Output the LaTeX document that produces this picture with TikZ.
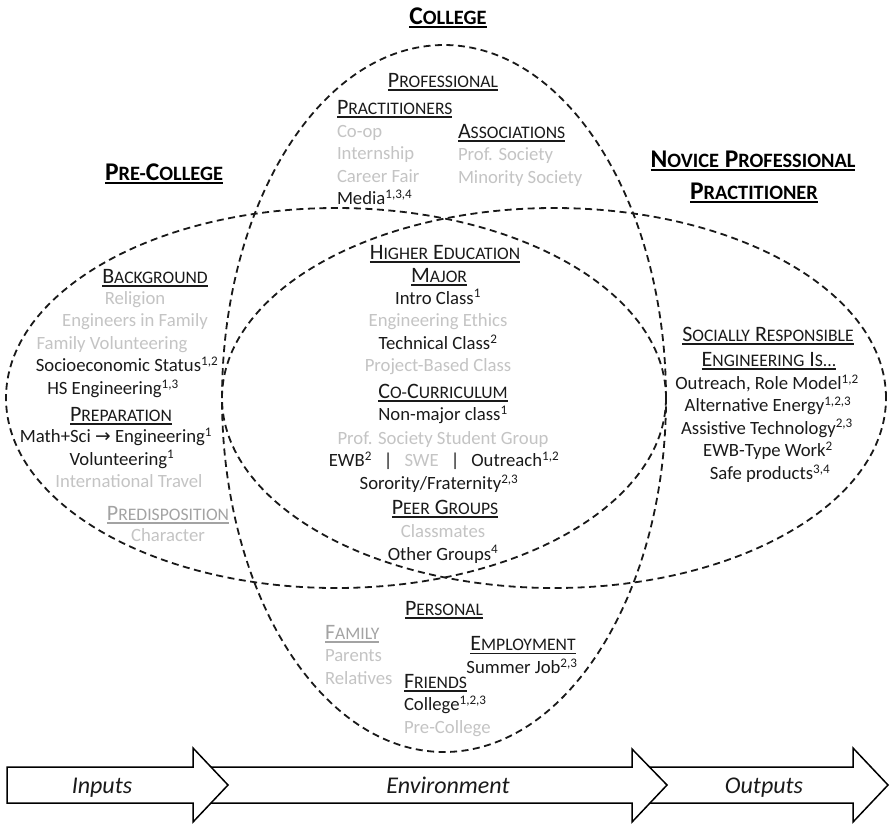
\documentclass[tikz,border=0pt]{standalone}
\usepackage{fontspec}
\setmainfont{Carlito}
\newfontfamily\arrowfont{DejaVu Sans}
\definecolor{txtblack}{HTML}{1A1A1A}
\definecolor{lgray}{HTML}{C4C4C4}
\definecolor{mgray}{HTML}{A3A3A3}
\newcommand\bodysize{\fontsize{18.7pt}{22pt}\selectfont}
\newcommand\headsize{\fontsize{22pt}{24pt}\selectfont\def\scsz{17.6pt}}
\newcommand\titlesize{\fontsize{25.5pt}{28pt}\selectfont\bfseries\def\scsz{20.4pt}}
\newcommand\arrowsize{\fontsize{24pt}{26pt}\selectfont}
\newcommand\SC[2]{#1{\fontsize{\scsz}{\scsz}\selectfont #2}}
\newcommand\myul[1]{\setbox0=\hbox{#1}\rlap{\rule[-3.5pt]{\wd0}{1.4pt}}\box0}
\newcommand\sps[1]{\textsuperscript{#1}}
\tikzset{
  body/.style={anchor=base, inner sep=0pt, outer sep=0pt, font=\bodysize, text=txtblack},
  bodyw/.style={body, anchor=base west},
  faint/.style={body, text=lgray},
  faintw/.style={faint, anchor=base west},
  head/.style={anchor=base, inner sep=0pt, outer sep=0pt, font=\headsize, text=txtblack},
  headw/.style={head, anchor=base west},
  title/.style={anchor=base, inner sep=0pt, outer sep=0pt, font=\titlesize, text=black},
  venn/.style={draw=black!90, line width=1.8pt, dash pattern=on 7pt off 4.5pt},
  blockarrow/.style={draw=black, line width=1.5pt, fill=white, line join=miter},
  arrowtext/.style={anchor=base, inner sep=0pt, outer sep=0pt, font=\arrowsize\itshape, text=txtblack}
}
\begin{document}
\begin{tikzpicture}[x=1pt,y=-1pt]
\useasboundingbox (0,0) rectangle (890,823);
\fill[white] (0,0) rectangle (890,823);
% Venn ellipses
\draw[venn] (444,398.5) ellipse [x radius=222pt, y radius=353.5pt];
\draw[venn] (336,398) ellipse [x radius=330pt, y radius=190pt];
\draw[venn] (554,398) ellipse [x radius=332pt, y radius=190pt];
% block arrows
\draw[blockarrow] (645,767) -- (853,767) -- (853,748) -- (888,785) -- (853,822) -- (853,803) -- (645,803) -- cycle;
\draw[blockarrow] (200,767) -- (632,767) -- (632,749) -- (667,785) -- (632,822) -- (632,803) -- (200,803) -- cycle;
\draw[blockarrow] (7,767) -- (193,767) -- (193,748) -- (228,785) -- (193,822) -- (193,803) -- (7,803) -- cycle;
\node[arrowtext] (inputs) at (102,793) {Inputs};
\node[arrowtext] (environment) at (448,793) {Environment};
\node[arrowtext] (outputs) at (764,793) {Outputs};
% titles
\node[title] (tcollege) at (448,24) {\myul{\SC{C}{OLLEGE}}};
\node[title] (tprecollege) at (164,180) {\myul{\SC{P}{RE-}\SC{C}{OLLEGE}}};
\node[title] (tnovice1) at (753,167) {\myul{\SC{N}{OVICE} \SC{P}{ROFESSIONAL}}};
\node[title] (tnovice2) at (754,199) {\myul{\SC{P}{RACTITIONER}}};
% professional
\node[head] (hprof) at (443,87) {\myul{\SC{P}{ROFESSIONAL}}};
\node[headw] (hpract) at (337,114) {\myul{\SC{P}{RACTITIONERS}}};
\node[faintw] (coop) at (337,137) {Co-op};
\node[faintw] (intern) at (337,159.6) {Internship};
\node[faintw] (career) at (337,182.2) {Career Fair};
\node[bodyw] (media) at (337,204.8) {Media\sps{1,3,4}};
\node[headw] (hassoc) at (458,138) {\myul{\SC{A}{SSOCIATIONS}}};
\node[faintw] (profsoc) at (458,160.6) {Prof. Society};
\node[faintw] (minsoc) at (458,183.2) {Minority Society};
% pre-college
\node[head] (hbackground) at (155,283) {\myul{\SC{B}{ACKGROUND}}};
\node[faint] (religion) at (135,304) {Religion};
\node[faint] (engfam) at (135,326.6) {Engineers in Family};
\node[faint] (famvol) at (112,349.2) {Family Volunteering};
\node[body] (ses) at (127,371.8) {Socioeconomic Status\sps{1,2}};
\node[body] (hseng) at (113,394.4) {HS Engineering\sps{1,3}};
\node[head] (hprep) at (121,421) {\myul{\SC{P}{REPARATION}}};
\node[body] (mathsci) at (116,442.5) {Math+Sci {\arrowfont →} Engineering\sps{1}};
\node[body] (volunt) at (122,465) {Volunteering\sps{1}};
\node[faint] (travel) at (129,487.6) {International Travel};
\node[head, text=mgray] (hpredisp) at (168,520) {\myul{\SC{P}{REDISPOSITION}}};
\node[faint] (character) at (168,541.7) {Character};
% higher education
\node[head] (hhighered) at (445,259) {\myul{\SC{H}{IGHER} \SC{E}{DUCATION}}};
\node[head] (hmajor) at (439,282) {\myul{\SC{M}{AJOR}}};
\node[body] (intro) at (438,304) {Intro Class\sps{1}};
\node[faint] (ethics) at (438,326.7) {Engineering Ethics};
\node[body] (technical) at (438,349.3) {Technical Class\sps{2}};
\node[faint] (pbl) at (438,371.7) {Project-Based Class};
\node[head] (hcocurr) at (443,398.3) {\myul{\SC{C}{O-}\SC{C}{URRICULUM}}};
\node[body] (nonmajor) at (443,420.7) {Non-major class\sps{1}};
\node[faint] (profstud) at (443,444) {Prof. Society Student Group};
\node[body] (ewb) at (444,466.7) {EWB\sps{2}\hspace{12pt}|\hspace{12pt}\textcolor{lgray}{SWE}\hspace{12pt}|\hspace{12pt}Outreach\sps{1,2}};
\node[body] (sorority) at (439,489.3) {Sorority/Fraternity\sps{2,3}};
\node[head] (hpeer) at (445,514.3) {\myul{\SC{P}{EER} \SC{G}{ROUPS}}};
\node[faint] (classmates) at (443,537.3) {Classmates};
\node[body] (othergroups) at (443,560) {Other Groups\sps{4}};
% novice professional
\node[head] (hsocially) at (768,341) {\myul{\SC{S}{OCIALLY} \SC{R}{ESPONSIBLE}}};
\node[head] (hengis) at (769,366) {\myul{\SC{E}{NGINEERING} \SC{I}{S...}}};
\node[body] (outreach) at (767,389.3) {Outreach, Role Model\sps{1,2}};
\node[body] (alten) at (768,411.7) {Alternative Energy\sps{1,2,3}};
\node[body] (assist) at (767,434) {Assistive Technology\sps{2,3}};
\node[body] (ewbtype) at (768,456.7) {EWB-Type Work\sps{2}};
\node[body] (safe) at (770,479.3) {Safe products\sps{3,4}};
% personal
\node[head] (hpersonal) at (444,615) {\myul{\SC{P}{ERSONAL}}};
\node[headw, text=mgray] (hfamily) at (325,639.3) {\myul{\SC{F}{AMILY}}};
\node[faintw] (parents) at (325,661.7) {Parents};
\node[faintw] (relatives) at (325,684) {Relatives};
\node[head] (hemploy) at (523,650.7) {\myul{\SC{E}{MPLOYMENT}}};
\node[body] (summer) at (522,673.3) {Summer Job\sps{2,3}};
\node[headw] (hfriends) at (404,688.3) {\myul{\SC{F}{RIENDS}}};
\node[bodyw] (collegefr) at (404,710.7) {College\sps{1,2,3}};
\node[faintw] (precollfr) at (404,733.3) {Pre-College};
\end{tikzpicture}
\end{document}
